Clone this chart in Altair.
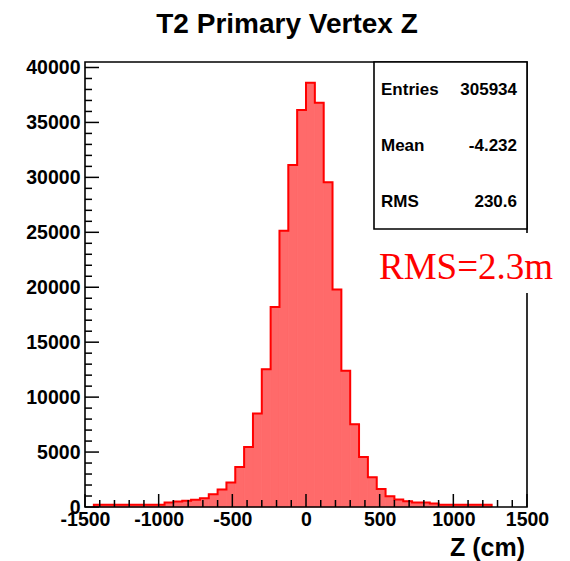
import altair as alt
import pandas as pd

# ---- data ----
bin_width = 60
bin_left = list(range(-1440, 1260, 60))  # left edges of the drawn bins
counts = [
    200, 200, 200, 200, 200, 200, 200, 200,        # -1440 .. -1020
    400, 490, 580, 670, 790, 1150, 1600, 2222,      # -960 .. -540
    3640, 5460, 8500, 12540, 18210, 25140, 31120, 36130,  # -480 .. -60
    38620, 36790, 29550, 19800, 12390, 7530, 4550, 2700,  # 0 .. 420
    1630, 975, 674, 519, 400, 400, 310,             # 480 .. 840
    200, 200, 200, 200, 200, 200,                   # 900 .. 1200
]
x_major = [-1500, -1000, -500, 0, 500, 1000, 1500]
x_minor = [v for v in range(-1500, 1501, 100) if v % 500 != 0]
y_major = [0, 5000, 10000, 15000, 20000, 25000, 30000, 35000, 40000]
y_minor = [v for v in range(0, 40001, 1000) if v % 5000 != 0]
stat_names = ["Entries", "Mean", "RMS"]
stat_values = ["305934", "-4.232", "230.6"]
title_text = "T2 Primary Vertex Z"
x_title = "Z (cm)"
note_text = "RMS=2.3m"

# ---- layout ----
W, H = 442, 445
XD = [-1500, 1500]
YD = [0, 40500]
FONT = "Liberation Sans"
FILL = "#ff6a6a"

bars = pd.DataFrame({
    "start": bin_left,
    "end": [b + bin_width for b in bin_left],
    "count": counts,
})

# outline path (step)
px, py = [bin_left[0]], [0]
for b, c in zip(bin_left, counts):
    px += [b, b + bin_width]
    py += [c, c]
px.append(bin_left[-1] + bin_width)
py.append(0)
outline = pd.DataFrame({"x": px, "y": py, "i": list(range(len(px)))})

xs = alt.Scale(domain=XD, nice=False, zero=False)
ys = alt.Scale(domain=YD, nice=False)

fill = alt.Chart(bars).mark_rect(color=FILL, stroke=FILL, strokeWidth=0.8).encode(
    x=alt.X("start:Q", scale=xs, axis=alt.Axis(
        values=x_major, labelExpr="'' + datum.value", title=None,
        ticks=False, tickSize=0, domain=False, grid=False,
        labelFont=FONT, labelFontWeight="bold", labelFontSize=19.5,
        labelColor="black", labelPadding=3, labelFlush=False,
        labelOverlap=False, labelBound=False)),
    x2="end:Q",
    y=alt.Y("count:Q", scale=ys, axis=alt.Axis(
        values=y_major, labelExpr="'' + datum.value", title=None,
        ticks=False, tickSize=0, domain=False, grid=False,
        labelFont=FONT, labelFontWeight="bold", labelFontSize=19.5,
        labelColor="black", labelPadding=5, labelFlush=False,
        labelOverlap=False, labelBound=False)),
    y2=alt.datum(0),
)

line = alt.Chart(outline).mark_line(color="#ff0000", strokeWidth=2,
                                    interpolate="linear").encode(
    x=alt.X("x:Q", scale=xs),
    y=alt.Y("y:Q", scale=ys),
    order="i:Q",
)

xmaj = alt.Chart(pd.DataFrame({"v": x_major})).mark_rule(
    color="black", strokeWidth=1.5).encode(
    x=alt.X("v:Q", scale=xs), y=alt.value(H), y2=alt.value(H - 13))
xmin = alt.Chart(pd.DataFrame({"v": x_minor})).mark_rule(
    color="black", strokeWidth=1.5).encode(
    x=alt.X("v:Q", scale=xs), y=alt.value(H), y2=alt.value(H - 7))
ymaj = alt.Chart(pd.DataFrame({"v": y_major})).mark_rule(
    color="black", strokeWidth=1.5).encode(
    y=alt.Y("v:Q", scale=ys), x=alt.value(0), x2=alt.value(14))
ymin = alt.Chart(pd.DataFrame({"v": y_minor})).mark_rule(
    color="black", strokeWidth=1.5).encode(
    y=alt.Y("v:Q", scale=ys), x=alt.value(0), x2=alt.value(7))

frame = alt.Chart(pd.DataFrame({"a": [0]})).mark_rect(
    fillOpacity=0, stroke="black", strokeWidth=1.6).encode(
    x=alt.value(0), x2=alt.value(W), y=alt.value(0), y2=alt.value(H))

statbox = alt.Chart(pd.DataFrame({"a": [0]})).mark_rect(
    fill="white", stroke="black", strokeWidth=1.6).encode(
    x=alt.value(289), x2=alt.value(W), y=alt.value(0), y2=alt.value(167))

stat_layers = []
for k, (n, v) in enumerate(zip(stat_names, stat_values)):
    yy = 33 + 56 * k
    stat_layers.append(alt.Chart(pd.DataFrame({"a": [0]})).mark_text(
        text=n, align="left", baseline="alphabetic", font=FONT,
        fontWeight="bold", fontSize=17, color="black").encode(
        x=alt.value(296), y=alt.value(yy)))
    stat_layers.append(alt.Chart(pd.DataFrame({"a": [0]})).mark_text(
        text=v, align="right", baseline="alphabetic", font=FONT,
        fontWeight="bold", fontSize=17, color="black").encode(
        x=alt.value(432), y=alt.value(yy)))

notebg = alt.Chart(pd.DataFrame({"a": [0]})).mark_rect(
    fill="white", stroke=None).encode(
    x=alt.value(290), x2=alt.value(473), y=alt.value(171), y2=alt.value(231))
note = alt.Chart(pd.DataFrame({"a": [0]})).mark_text(
    text=note_text, align="left", baseline="alphabetic",
    font="Liberation Serif", fontSize=37, color="#ff0000").encode(
    x=alt.value(294), y=alt.value(217))

title = alt.Chart(pd.DataFrame({"a": [0]})).mark_text(
    text=title_text, align="center", baseline="alphabetic", font=FONT,
    fontWeight="bold", fontSize=28, color="black").encode(
    x=alt.value(202), y=alt.value(-29))

xtitle = alt.Chart(pd.DataFrame({"a": [0]})).mark_text(
    text=x_title, align="right", baseline="alphabetic", font=FONT,
    fontWeight="bold", fontSize=25, color="black").encode(
    x=alt.value(440), y=alt.value(494))

chart = alt.layer(
    fill, line, xmaj, xmin, ymaj, ymin, frame, statbox, *stat_layers,
    notebg, note, title, xtitle,
).properties(
    width=W, height=H,
    autosize=alt.AutoSizeParams(type="none"),
    padding={"left": 85, "top": 62, "right": 43, "bottom": 54},
    background="white",
).configure_view(stroke=None)

chart.save("out.html", embed_options={"renderer": "svg", "actions": False})
